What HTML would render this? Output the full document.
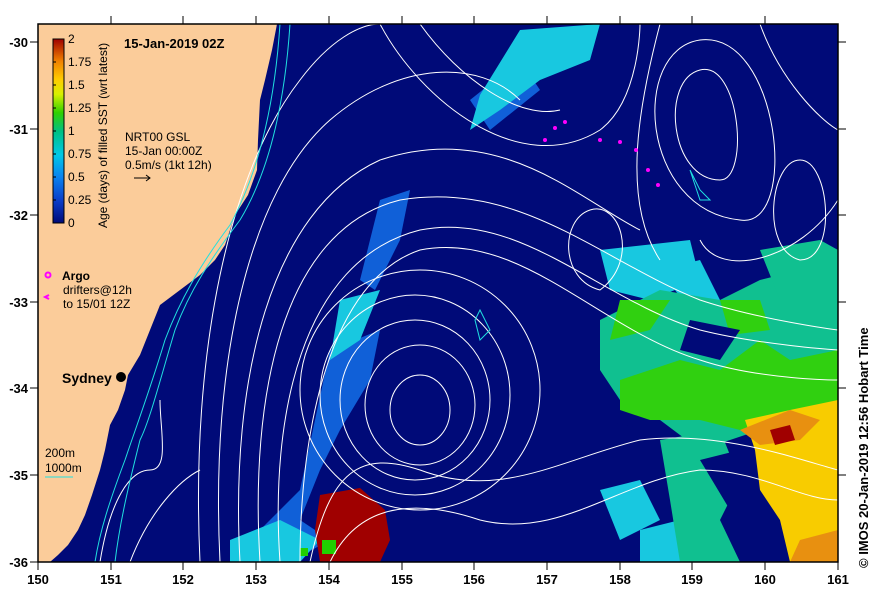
<!DOCTYPE html>
<html><head><style>
body{margin:0;background:#fff;}
svg{display:block;font-family:"Liberation Sans",sans-serif;}
</style></head><body>
<svg width="879" height="600" viewBox="0 0 879 600">
<defs>
<linearGradient id="cb" x1="0" y1="1" x2="0" y2="0">
<stop offset="0" stop-color="#000a78"/>
<stop offset="0.12" stop-color="#0a3cc8"/>
<stop offset="0.25" stop-color="#0a82f0"/>
<stop offset="0.37" stop-color="#00c8e6"/>
<stop offset="0.5" stop-color="#00c080"/>
<stop offset="0.6" stop-color="#30d000"/>
<stop offset="0.7" stop-color="#d8f000"/>
<stop offset="0.78" stop-color="#ffcc00"/>
<stop offset="0.88" stop-color="#f08000"/>
<stop offset="1" stop-color="#a00000"/>
</linearGradient>
<clipPath id="pc"><rect x="38" y="24" width="800" height="538"/></clipPath>
</defs>
<rect x="38" y="24" width="800" height="538" fill="#000a78"/>
<g clip-path="url(#pc)">
<g fill="#1060d8"><path d="M380,200 L410,190 L400,240 L375,290 L360,280Z"/><path d="M330,350 L380,330 L370,380 L340,430 L320,470 L300,520 L330,540 L290,562 L240,562 L260,530 L300,490Z"/><path d="M470,100 L520,60 L540,90 L490,130Z"/></g>
<g fill="#18c8e0">
<path d="M520,30 L600,24 L590,60 L540,80 L500,110 L470,130 L480,95Z"/>
<path d="M600,250 L690,240 L700,280 L650,300 L610,290Z"/>
<path d="M660,270 L700,260 L720,300 L690,310Z"/>
<path d="M230,540 L280,520 L320,540 L300,562 L230,562Z"/>
<path d="M600,490 L640,480 L660,520 L620,540Z"/>
<path d="M640,530 L680,520 L700,562 L640,562Z"/>
<path d="M340,300 L380,290 L360,340 L330,360Z"/>
<path d="M790,300 L838,290 L838,340 L800,330Z"/>
</g>
<g fill="#10c090">
<path d="M600,320 L660,290 L720,300 L760,280 L800,270 L838,260 L838,380 L800,400 L760,430 L700,450 L660,420 L620,400 L600,370Z"/>
<path d="M660,440 L720,430 L740,480 L720,520 L740,562 L680,562 L670,500 Z"/>
<path d="M760,250 L820,240 L838,250 L838,300 L780,300Z"/>
</g>
<g fill="#30d010">
<path d="M620,380 L680,360 L720,370 L760,340 L790,360 L838,350 L838,420 L780,420 L740,430 L700,420 L650,420 L620,410Z"/>
<path d="M720,300 L760,300 L770,330 L730,335Z"/>
<path d="M620,300 L670,300 L650,330 L610,340Z"/>
</g>
<g fill="#000a78"><path d="M690,320 L740,330 L720,360 L680,350Z"/><path d="M700,460 L740,450 L760,500 L730,510Z"/><path d="M600,420 L650,430 L640,470 L600,480Z"/></g>
<g fill="#f8cc00">
<path d="M745,420 L790,410 L838,400 L838,562 L790,562 L780,520 L760,490 L755,450Z"/>
</g>
<g fill="#e89010"><path d="M740,430 L790,410 L820,420 L800,440 L760,445Z"/><path d="M800,540 L838,530 L838,562 L790,562Z"/></g>
<g fill="#a00000"><path d="M320,495 L360,488 L385,510 L390,540 L380,562 L320,562 L315,530Z"/><path d="M770,430 L790,425 L795,440 L775,445Z"/></g>
<g fill="#20d000"><rect x="322" y="540" width="14" height="14"/><rect x="300" y="548" width="8" height="8"/></g>
<path d="M38,24 L277,24 L272,50 L265,80 L260,100 L258,140 L257,170 L248,195 L235,215 L225,245 L215,260 L200,275 L180,290 L160,305 L150,330 L140,355 L128,375 L125,390 L118,410 L110,425 L105,450 L100,470 L92,495 L85,515 L78,530 L68,545 L58,555 L50,562 L38,562Z" fill="#fbcc9a"/>
<g fill="none" stroke="#fff" stroke-width="1">
<ellipse cx="420" cy="410" rx="30" ry="35"/>
<ellipse cx="420" cy="405" rx="55" ry="60"/>
<ellipse cx="415" cy="400" rx="75" ry="80"/>
<ellipse cx="415" cy="395" rx="95" ry="100"/>
<ellipse cx="420" cy="390" rx="120" ry="120"/>
<path d="M300,562 C300,430 330,280 420,250 C520,230 600,330 700,360 C760,380 838,380 838,380"/>
<path d="M280,562 C270,420 300,260 420,230 C520,210 600,300 700,330 C760,345 838,350 838,350"/>
<path d="M260,562 C250,400 280,230 400,200 C520,180 600,260 700,300 C760,320 838,330 838,330"/>
<path d="M240,562 C230,380 270,210 380,160 C500,120 580,200 640,230"/>
<path d="M220,562 C210,360 250,190 330,120 C400,60 480,60 520,100"/>
<path d="M200,562 C190,350 230,170 300,80 C330,40 360,24 380,24"/>
<path d="M310,562 C330,470 360,450 420,470 C500,500 560,460 640,440 C720,430 800,460 838,470"/>
<path d="M330,562 C360,500 420,500 480,520 C560,540 620,480 700,470 C760,470 800,500 838,500"/>
<path d="M600,290 C560,280 560,220 590,210 C620,200 640,260 600,290Z"/>
<path d="M720,180 C670,180 660,80 700,70 C740,60 750,180 720,180Z"/>
<path d="M740,220 C640,210 630,50 700,40 C780,30 800,230 740,220Z"/>
<path d="M800,260 C760,250 770,160 800,160 C830,160 838,260 800,260Z"/>
<path d="M660,24 C640,100 620,200 660,260"/>
<path d="M380,24 C420,100 520,180 600,130 C640,100 640,24 640,24"/>
<path d="M420,24 C460,80 520,120 560,110"/>
<path d="M760,24 C780,80 820,120 838,130"/>
<path d="M838,200 C800,260 720,280 700,240"/>
<path d="M100,562 C110,500 130,470 150,470 C170,470 160,430 160,400"/>
<path d="M130,562 C150,510 180,480 200,470"/>
</g>
<g fill="none" stroke="#20e0e0" stroke-width="1">
<path d="M290,24 C285,100 270,170 240,220 C210,260 190,290 175,330 C160,380 150,420 140,440 C130,480 120,520 115,562"/>
<path d="M280,24 C275,100 260,170 230,225 C200,265 180,300 165,340 C150,390 135,430 125,460 C110,500 100,530 95,562"/>
<path d="M480,310 L490,330 L480,340 L475,320Z"/>
<path d="M690,170 L700,190 L710,200 L700,200Z"/>
</g>
<g fill="#ff00ff"><circle cx="545" cy="140" r="2"/><circle cx="555" cy="128" r="2"/><circle cx="565" cy="122" r="2"/><circle cx="600" cy="140" r="2"/><circle cx="620" cy="142" r="2"/><circle cx="636" cy="150" r="2"/><circle cx="648" cy="170" r="2"/><circle cx="658" cy="185" r="2"/></g>
</g>
<rect x="38" y="24" width="800" height="538" fill="none" stroke="#000" stroke-width="1.5"/>
<g stroke="#000" stroke-width="1">
<path d="M111,24v-8M183,24v-8M256,24v-8M329,24v-8M402,24v-8M474,24v-8M547,24v-8M620,24v-8M692,24v-8M765,24v-8"/>
<path d="M38,562v8M111,562v8M183,562v8M256,562v8M329,562v8M402,562v8M474,562v8M547,562v8M620,562v8M692,562v8M765,562v8M838,562v8"/>
<path d="M38,42h-8M38,129h-8M38,215h-8M38,302h-8M38,388h-8M38,475h-8M38,562h-8"/>
<path d="M838,42h8M838,129h8M838,215h8M838,302h8M838,388h8M838,475h8"/>
</g>
<g font-size="13" font-weight="bold" text-anchor="middle">
<text x="38" y="584">150</text><text x="111" y="584">151</text><text x="183" y="584">152</text><text x="256" y="584">153</text><text x="329" y="584">154</text><text x="402" y="584">155</text><text x="474" y="584">156</text><text x="547" y="584">157</text><text x="620" y="584">158</text><text x="692" y="584">159</text><text x="765" y="584">160</text><text x="838" y="584">161</text>
</g>
<g font-size="13" font-weight="bold" text-anchor="end">
<text x="28" y="47">-30</text><text x="28" y="134">-31</text><text x="28" y="220">-32</text><text x="28" y="307">-33</text><text x="28" y="393">-34</text><text x="28" y="480">-35</text><text x="28" y="567">-36</text>
</g>
<rect x="53" y="39" width="11" height="184" fill="url(#cb)" stroke="#000"/>
<g stroke="#000"><path d="M53,62h3M53,85h3M53,108h3M53,131h3M53,154h3M53,177h3M53,200h3"/></g>
<g font-size="12"><text x="68" y="43">2</text><text x="68" y="66">1.75</text><text x="68" y="89">1.5</text><text x="68" y="112">1.25</text><text x="68" y="135">1</text><text x="68" y="158">0.75</text><text x="68" y="181">0.5</text><text x="68" y="204">0.25</text><text x="68" y="227">0</text></g>
<text transform="translate(107,228) rotate(-90)" font-size="12">Age (days) of filled SST (wrt latest)</text>
<text x="124" y="48" font-size="13" font-weight="bold">15-Jan-2019 02Z</text>
<g font-size="12"><text x="125" y="141">NRT00 GSL</text><text x="125" y="155">15-Jan 00:00Z</text><text x="125" y="169">0.5m/s (1kt 12h)</text></g>
<path d="M134,178h16M146,175l4,3-4,3" stroke="#000" fill="none"/>
<circle cx="48" cy="275" r="2.5" fill="none" stroke="#ff00ff" stroke-width="2"/>
<text x="62" y="280" font-size="12" font-weight="bold">Argo</text>
<path d="M49,295l-4,2 4,2" stroke="#ff00ff" stroke-width="2" fill="none"/>
<g font-size="12"><text x="63" y="294">drifters@12h</text><text x="63" y="308">to 15/01 12Z</text></g>
<text x="62" y="383" font-size="14" font-weight="bold">Sydney</text>
<circle cx="121" cy="377" r="5" fill="#000"/>
<g font-size="12"><text x="45" y="457">200m</text><text x="45" y="472">1000m</text></g>
<path d="M45,477h28" stroke="#20e0e0"/>
<text transform="translate(868,568) rotate(-90)" font-size="13" font-weight="bold">© IMOS 20-Jan-2019 12:56 Hobart Time</text>
</svg>
</body></html>
